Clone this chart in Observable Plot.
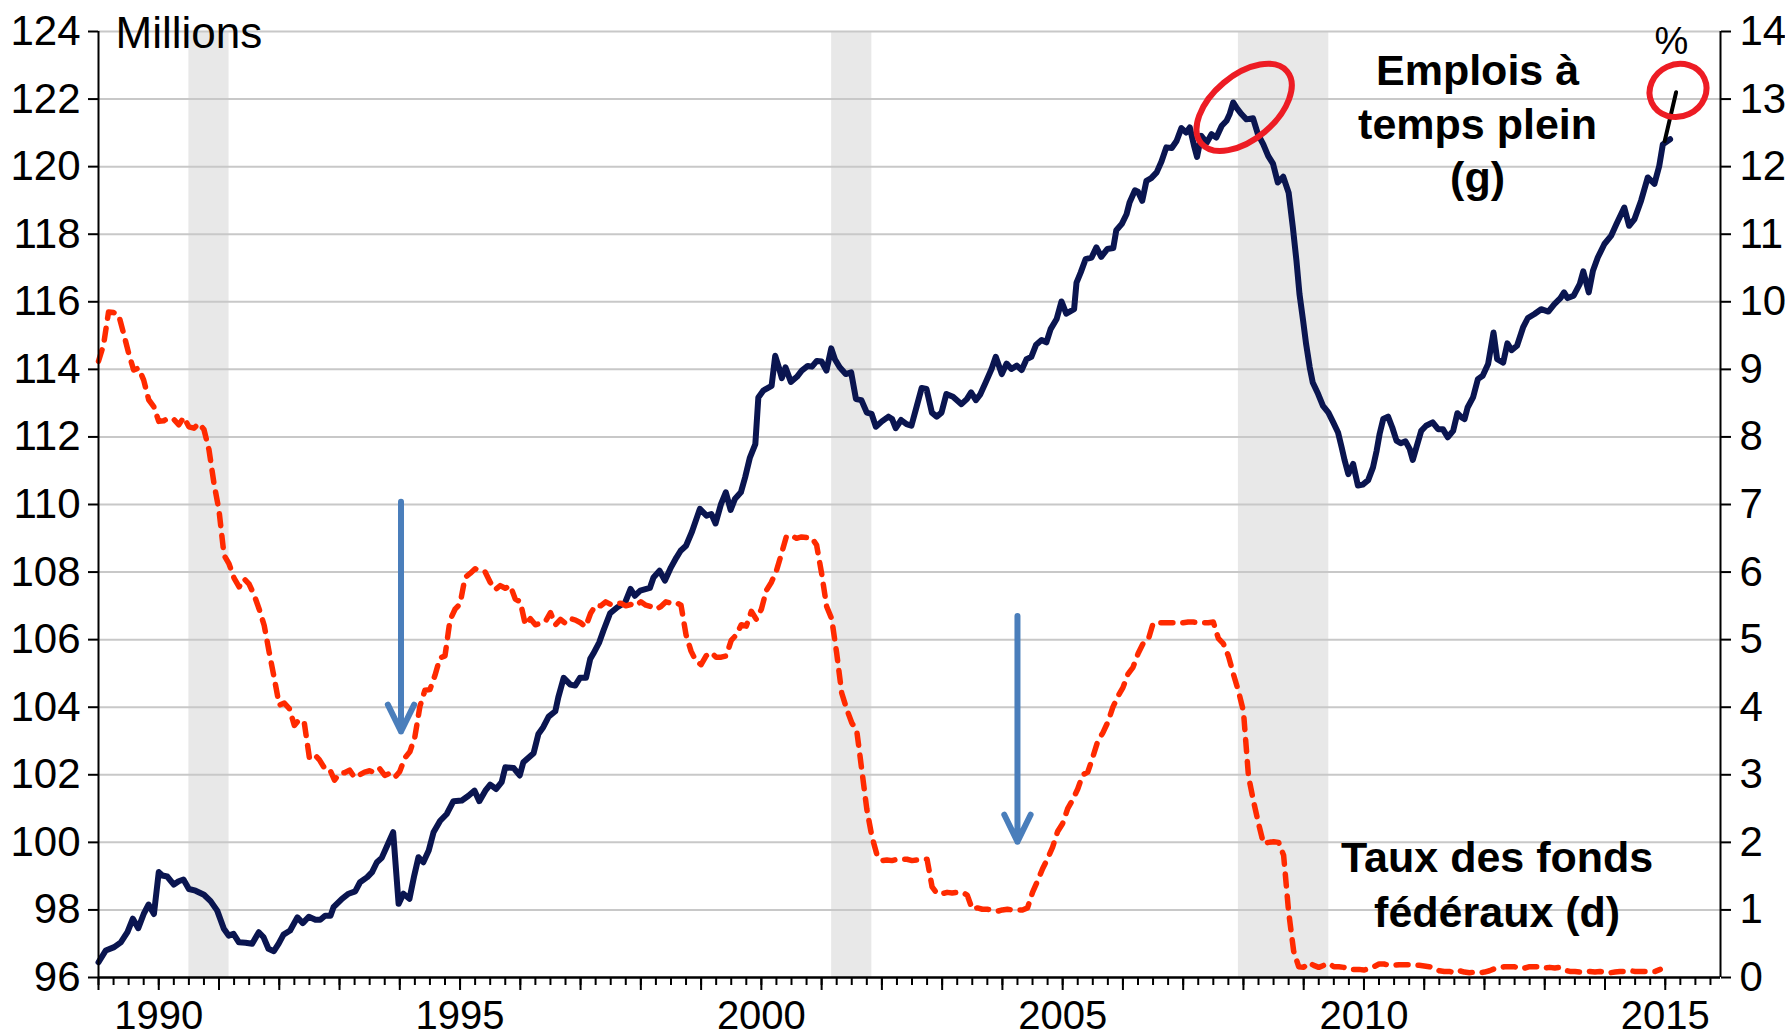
<!DOCTYPE html>
<html>
<head>
<meta charset="utf-8">
<script src="https://cdn.jsdelivr.net/npm/d3@7"></script>
<script src="https://cdn.jsdelivr.net/npm/@observablehq/plot@0.6"></script>
<style>
  html, body { margin: 0; padding: 0; background: #fff; overflow: hidden; }
  #chart { width: 1785px; height: 1035px; }
</style>
</head>
<body>
<div id="chart"></div>
<script>
// ---------- DATA ----------
// Full-time employment, millions (left axis) : [decimal year, value]
const fullTimeJobs = [
[1989.00,96.45],[1989.12,96.80],[1989.26,96.90],[1989.37,97.04],[1989.48,97.34],[1989.57,97.74],[1989.66,97.46],[1989.75,97.88],[1989.83,98.16],[1989.92,97.88],
[1990.00,99.12],[1990.06,99.02],[1990.14,98.99],[1990.25,98.75],[1990.33,98.85],[1990.41,98.90],[1990.50,98.62],[1990.61,98.57],[1990.75,98.45],[1990.86,98.26],[1990.97,97.98],
[1991.08,97.44],[1991.16,97.24],[1991.24,97.29],[1991.33,97.04],[1991.44,97.03],[1991.55,97.00],[1991.66,97.34],[1991.74,97.19],[1991.82,96.85],[1991.91,96.78],[1991.99,97.00],
[1992.07,97.27],[1992.18,97.39],[1992.30,97.78],[1992.39,97.61],[1992.49,97.80],[1992.60,97.71],[1992.68,97.71],[1992.76,97.83],[1992.85,97.83],[1992.90,98.08],
[1993.04,98.33],[1993.15,98.48],[1993.26,98.55],[1993.34,98.82],[1993.46,98.97],[1993.54,99.12],[1993.62,99.41],[1993.70,99.54],[1993.79,99.90],[1993.89,100.30],
[1993.98,98.18],[1994.06,98.48],[1994.16,98.33],[1994.24,99.02],[1994.31,99.56],[1994.39,99.41],[1994.48,99.76],[1994.56,100.30],[1994.67,100.64],[1994.78,100.84],[1994.89,101.22],
[1995.03,101.24],[1995.14,101.38],[1995.24,101.53],[1995.32,101.22],[1995.42,101.53],[1995.50,101.71],[1995.60,101.58],[1995.69,101.78],[1995.75,102.22],[1995.89,102.20],[1995.99,101.98],
[1996.05,102.37],[1996.22,102.64],[1996.30,103.21],[1996.38,103.41],[1996.47,103.72],[1996.58,103.88],[1996.63,104.29],[1996.72,104.87],[1996.83,104.67],[1996.91,104.64],[1996.99,104.87],
[1997.09,104.87],[1997.16,105.43],[1997.21,105.58],[1997.31,105.92],[1997.38,106.27],[1997.49,106.78],[1997.61,106.96],[1997.74,107.10],[1997.83,107.50],[1997.90,107.30],[1997.99,107.45],
[1998.15,107.53],[1998.21,107.84],[1998.31,108.04],[1998.40,107.75],[1998.50,108.14],[1998.59,108.43],[1998.66,108.63],[1998.75,108.78],[1998.85,109.20],[1998.98,109.87],
[1999.09,109.67],[1999.17,109.72],[1999.24,109.44],[1999.33,110.01],[1999.41,110.36],[1999.49,109.84],[1999.56,110.16],[1999.66,110.36],[1999.73,110.80],[1999.81,111.39],[1999.90,111.79],[1999.95,113.17],
[2000.03,113.37],[2000.17,113.51],[2000.23,114.40],[2000.29,114.06],[2000.34,113.74],[2000.40,114.06],[2000.49,113.63],[2000.59,113.78],[2000.67,113.96],[2000.77,114.10],[2000.84,114.08],[2000.92,114.25],
[2001.00,114.23],[2001.08,113.96],[2001.16,114.62],[2001.22,114.30],[2001.30,114.06],[2001.40,113.86],[2001.49,113.91],[2001.57,113.12],[2001.66,113.09],[2001.75,112.72],[2001.83,112.68],[2001.90,112.30],
[2002.00,112.46],[2002.11,112.60],[2002.17,112.53],[2002.23,112.26],[2002.32,112.50],[2002.41,112.38],[2002.49,112.33],[2002.58,112.92],[2002.66,113.45],[2002.74,113.42],[2002.83,112.72],[2002.91,112.60],
[2002.99,112.72],[2003.07,113.27],[2003.18,113.19],[2003.32,112.97],[2003.41,113.12],[2003.48,113.32],[2003.56,113.09],[2003.63,113.25],[2003.72,113.60],[2003.82,114.01],[2003.89,114.37],
[2003.99,113.86],[2004.07,114.17],[2004.15,114.01],[2004.24,114.11],[2004.32,113.98],[2004.40,114.30],[2004.48,114.37],[2004.56,114.73],[2004.65,114.87],[2004.73,114.80],[2004.80,115.19],[2004.90,115.49],
[2004.98,116.01],[2005.06,115.65],[2005.19,115.78],[2005.23,116.57],[2005.30,116.87],[2005.38,117.26],[2005.48,117.31],[2005.56,117.61],[2005.64,117.33],[2005.74,117.56],[2005.84,117.59],[2005.89,118.12],
[2005.98,118.30],[2006.06,118.59],[2006.11,118.94],[2006.20,119.30],[2006.25,119.26],[2006.32,118.99],[2006.39,119.58],[2006.47,119.66],[2006.56,119.83],[2006.64,120.15],[2006.72,120.57],[2006.81,120.55],[2006.89,120.76],
[2006.97,121.14],[2007.05,121.01],[2007.11,121.16],[2007.18,120.62],[2007.23,120.29],[2007.30,120.91],[2007.39,120.71],[2007.47,120.96],[2007.55,120.86],[2007.64,121.21],[2007.72,121.36],[2007.77,121.55],[2007.83,121.90],[2007.89,121.73],
[2007.97,121.55],[2008.05,121.40],[2008.16,121.43],[2008.24,120.96],[2008.33,120.66],[2008.41,120.32],[2008.49,120.09],[2008.57,119.53],[2008.66,119.70],[2008.75,119.23],[2008.82,118.20],[2008.88,117.21],[2008.93,116.23],[2008.99,115.44],
[2009.04,114.75],[2009.10,114.06],[2009.15,113.61],[2009.24,113.27],[2009.32,112.92],[2009.41,112.72],[2009.49,112.43],[2009.57,112.13],[2009.63,111.69],[2009.68,111.30],[2009.74,110.90],[2009.82,111.20],[2009.90,110.56],[2009.98,110.59],
[2010.07,110.72],[2010.15,111.10],[2010.21,111.59],[2010.26,112.09],[2010.32,112.53],[2010.40,112.60],[2010.47,112.28],[2010.54,111.89],[2010.61,111.81],[2010.69,111.87],[2010.76,111.64],[2010.81,111.32],[2010.87,111.69],[2010.95,112.18],
[2011.03,112.33],[2011.14,112.43],[2011.23,112.23],[2011.31,112.23],[2011.39,111.99],[2011.48,112.18],[2011.55,112.70],[2011.62,112.58],[2011.67,112.53],[2011.72,112.87],[2011.81,113.17],[2011.89,113.71],[2011.97,113.81],
[2012.06,114.16],[2012.15,115.09],[2012.21,114.30],[2012.31,114.20],[2012.38,114.77],[2012.45,114.57],[2012.54,114.70],[2012.64,115.24],[2012.72,115.52],[2012.83,115.64],[2012.94,115.78],
[2013.06,115.71],[2013.16,115.93],[2013.26,116.11],[2013.32,116.28],[2013.38,116.11],[2013.48,116.18],[2013.58,116.52],[2013.64,116.90],[2013.73,116.28],[2013.80,116.92],[2013.88,117.31],[2013.99,117.71],
[2014.10,117.95],[2014.19,118.30],[2014.32,118.79],[2014.40,118.25],[2014.49,118.45],[2014.60,119.00],[2014.71,119.68],[2014.82,119.49],[2014.90,120.02],[2014.96,120.66],[2015.08,120.81]
];

// Federal funds rate, % (right axis), monthly from January 1989 to December 2014
const fedFundsStart = 1989;
const fedFundsRate = [
9.12,9.36,9.85,9.84,9.81,9.53,9.24,8.99,9.02,8.84,8.55,8.45,
8.23,8.24,8.28,8.26,8.18,8.29,8.15,8.13,8.20,8.11,7.81,7.31,
6.91,6.25,6.12,5.91,5.78,5.90,5.82,5.66,5.45,5.21,4.81,4.43,
4.03,4.06,3.98,3.73,3.82,3.76,3.25,3.30,3.22,3.10,3.09,2.92,
3.02,3.03,3.07,2.96,3.00,3.04,3.06,3.03,3.09,2.99,3.02,2.96,
3.05,3.25,3.34,3.56,4.01,4.25,4.26,4.47,4.73,4.76,5.29,5.45,
5.53,5.92,5.98,6.05,6.01,6.00,5.85,5.74,5.80,5.76,5.80,5.60,
5.56,5.22,5.31,5.22,5.24,5.27,5.40,5.22,5.30,5.24,5.31,5.29,
5.25,5.19,5.39,5.51,5.50,5.56,5.52,5.54,5.54,5.50,5.52,5.50,
5.56,5.51,5.49,5.45,5.49,5.56,5.54,5.55,5.51,5.07,4.83,4.68,
4.63,4.76,4.81,4.74,4.74,4.76,4.99,5.07,5.22,5.20,5.42,5.30,
5.45,5.73,5.85,6.02,6.27,6.53,6.54,6.50,6.52,6.51,6.51,6.40,
5.98,5.49,5.31,4.80,4.21,3.97,3.77,3.65,3.07,2.49,2.09,1.82,
1.73,1.74,1.73,1.75,1.75,1.75,1.73,1.74,1.75,1.75,1.34,1.24,
1.24,1.26,1.25,1.26,1.26,1.22,1.01,1.03,1.01,1.01,1.00,0.98,
1.00,1.01,1.00,1.00,1.00,1.03,1.26,1.43,1.61,1.76,1.93,2.16,
2.28,2.50,2.63,2.79,3.00,3.04,3.26,3.50,3.62,3.78,4.00,4.16,
4.29,4.49,4.59,4.79,4.94,4.99,5.24,5.25,5.25,5.25,5.25,5.24,
5.25,5.26,5.26,5.25,5.25,5.25,5.26,5.02,4.94,4.76,4.49,4.24,
3.94,2.98,2.61,2.28,1.98,2.00,2.01,2.00,1.81,0.97,0.39,0.16,
0.15,0.22,0.18,0.15,0.18,0.21,0.16,0.16,0.15,0.12,0.12,0.12,
0.11,0.13,0.16,0.20,0.20,0.18,0.18,0.19,0.19,0.19,0.19,0.18,
0.17,0.16,0.14,0.10,0.09,0.09,0.07,0.10,0.08,0.07,0.08,0.07,
0.08,0.10,0.13,0.14,0.16,0.16,0.16,0.13,0.14,0.16,0.16,0.16,
0.14,0.15,0.14,0.15,0.11,0.09,0.09,0.08,0.08,0.09,0.08,0.09,
0.07,0.07,0.08,0.09,0.09,0.10,0.09,0.09,0.09,0.09,0.09,0.12
];

// Recessions (shaded), start and end months
const recessionStart = ["1990-07", "2001-03", "2007-12"];
const recessionEnd   = ["1991-03", "2001-11", "2009-06"];

// Tick labels
const leftTicks = [96,98,100,102,104,106,108,110,112,114,116,118,120,122,124];
const rightTicks = [0,1,2,3,4,5,6,7,8,9,10,11,12,13,14];
const yearLabels = [1990, 1995, 2000, 2005, 2010, 2015];

// Annotations (blue arrows, black extension, red circles)
const arrowYear = [1994.02, 2004.25];
const arrowFrom = [110.08, 106.70];
const arrowTo   = [103.28, 100.02];
const extensionYear  = [2014.99, 2015.18];
const extensionValue = [120.75, 122.20];
const circleYear  = [2008.02, 2015.22];
const circleValue = [121.74, 122.24];

// ---------- CHART ----------
const xDomain = [1989, 2015 + 11/12];
const yDomain = [96, 124];
const toYear = s => { const [y, m] = s.split("-").map(Number); return y + (m - 1) / 12; };
// right axis (%) mapped onto the left scale: 0 % -> 96, 14 % -> 124
const pctToLeft = p => yDomain[0] + p * (yDomain[1] - yDomain[0]) / 14;

const jobs = fullTimeJobs.map(([x, y]) => ({x, y}));
const fed = fedFundsRate.map((r, i) => ({x: fedFundsStart + i / 12, y: pctToLeft(r)}));
const recessions = recessionStart.map((s, i) => ({x1: toYear(s), x2: toYear(recessionEnd[i])}));
const arrows = arrowYear.map((x, i) => ({x, y1: arrowFrom[i], y2: arrowTo[i]}));
const extension = extensionYear.map((x, i) => ({x, y: extensionValue[i]}));

const yearTicks = d3.range(1989, 2016);
const quarterTicks = d3.range(1989 * 4, 2016 * 4).map(q => q / 4).filter(v => v <= xDomain[1]);

const font = "'Liberation Sans', Arial, Helvetica, sans-serif";

const chart = Plot.plot({
  width: 1785,
  height: 1035,
  marginLeft: 98,
  marginRight: 65,
  marginTop: 31,
  marginBottom: 58,
  x: {type: "linear", domain: xDomain},
  y: {type: "linear", domain: yDomain},
  style: {fontFamily: font, background: "#fff", color: "#000", overflow: "visible"},
  marks: [
    Plot.rect(recessions, {x1: "x1", x2: "x2", y1: yDomain[0], y2: yDomain[1], fill: "#e8e8e8"}),
    Plot.gridY(leftTicks.slice(1), {stroke: "#c8c8c8", strokeOpacity: 1, strokeWidth: 2}),
    Plot.line(jobs, {x: "x", y: "y", stroke: "#0a1550", strokeWidth: 6, strokeLinejoin: "round"}),
    Plot.line(fed, {x: "x", y: "y", stroke: "#ff2a00", strokeWidth: 5.5, strokeDasharray: "12,10", strokeLinecap: "round", strokeLinejoin: "round"}),
    Plot.line(extension, {x: "x", y: "y", stroke: "#000", strokeWidth: 4}),
    Plot.arrow(arrows, {x1: "x", x2: "x", y1: "y1", y2: "y2", stroke: "#4a7ebb", strokeWidth: 6, headLength: 7.5, headAngle: 52}),
    // axis lines
    Plot.ruleX([xDomain[0]], {stroke: "#000", strokeWidth: 2}),
    Plot.ruleX([xDomain[1]], {stroke: "#000", strokeWidth: 2}),
    Plot.ruleY([yDomain[0]], {stroke: "#000", strokeWidth: 2.5}),
    // left axis
    Plot.axisY({anchor: "left", ticks: leftTicks, tickSize: 10, tickPadding: 8, fontSize: 42, strokeWidth: 2, tickFormat: d => String(d), label: null}),
    // right axis (%)
    Plot.axisY({anchor: "right", ticks: rightTicks.map(pctToLeft), tickSize: 10, tickPadding: 9, fontSize: 42, strokeWidth: 2,
      tickFormat: d => String(Math.round((d - yDomain[0]) * 14 / (yDomain[1] - yDomain[0]))), label: null}),
    // x axis: quarter ticks, year ticks, labels
    Plot.axisX({ticks: quarterTicks, tickSize: 8, strokeWidth: 2, tickFormat: () => "", label: null}),
    Plot.axisX({ticks: yearTicks, tickSize: 13, strokeWidth: 2, tickFormat: () => "", label: null}),
    Plot.axisX({ticks: yearLabels, tickSize: 0, tickPadding: 23, fontSize: 40, tickFormat: d => String(d), label: null}),
    // texts
    Plot.text(["Millions"], {frameAnchor: "top-left", dx: 17, dy: -15, lineAnchor: "top", textAnchor: "start", fontSize: 44}),
    Plot.text(["%"], {frameAnchor: "top-right", dx: -49, dy: -4, lineAnchor: "top", textAnchor: "middle", fontSize: 38}),
    Plot.text(["Emplois à\ntemps plein\n(g)"], {x: 2011.885, y: 123.53, lineAnchor: "top", textAnchor: "middle", fontSize: 43, fontWeight: "bold", lineHeight: 1.24}),
    Plot.text(["Taux des fonds\nfédéraux (d)"], {x: 2012.21, y: 100.27, lineAnchor: "top", textAnchor: "middle", fontSize: 43, fontWeight: "bold", lineHeight: 1.27})
  ]
});

// hand-drawn red ellipses, positioned through the plot's own scales
const sx = chart.scale("x"), sy = chart.scale("y");
const ellipseRx = [56, 29], ellipseRy = [32, 26], ellipseRot = [-40, -25];
const g = d3.select(chart).append("g").attr("fill", "none").attr("stroke", "#ed1c24").attr("stroke-width", 6);
circleYear.forEach((cx, i) => {
  g.append("ellipse")
    .attr("rx", ellipseRx[i]).attr("ry", ellipseRy[i])
    .attr("transform", `translate(${sx.apply(cx)},${sy.apply(circleValue[i])}) rotate(${ellipseRot[i]})`);
});

document.getElementById("chart").appendChild(chart);
</script>
</body>
</html>
